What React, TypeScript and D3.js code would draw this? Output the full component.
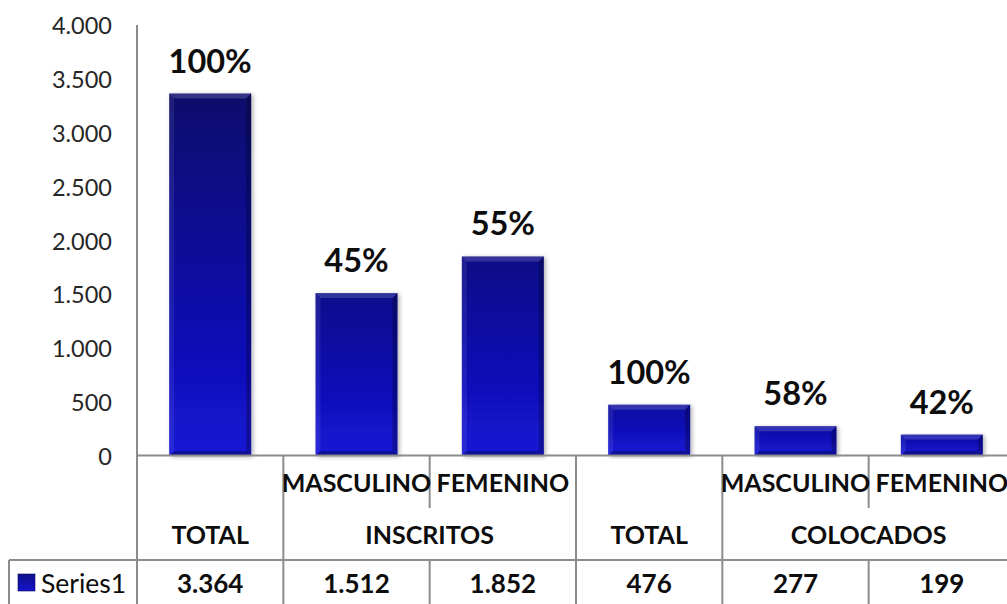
import React from "react";
import * as d3 from "d3";

const subLabels = ["", "MASCULINO", "FEMENINO", "", "MASCULINO", "FEMENINO"];
const groupLabels = ["TOTAL", "INSCRITOS", "TOTAL", "COLOCADOS"];
const groupSpans = [1, 2, 1, 2];
const values = [3364, 1512, 1852, 476, 277, 199];
const valueText = ["3.364", "1.512", "1.852", "476", "277", "199"];
const pctLabels = ["100%", "45%", "55%", "100%", "58%", "42%"];
const yTicks = [0, 500, 1000, 1500, 2000, 2500, 3000, 3500, 4000];
const seriesName = "Series1";

const W = 1007;
const H = 604;
const axisX = 137;
const rightX = 1015;
const yTop = 25;
const yBase = 456;
const row1Y = 508;
const row2Y = 560;
const legendLeft = 9;

const fmt = (v: number) => {
  const s = String(v);
  return s.length > 3 ? s.slice(0, s.length - 3) + "." + s.slice(s.length - 3) : s;
};

export default function App() {
  const idx = values.map((_, i) => i);
  const x = d3.scaleBand<number>().domain(idx).range([axisX, rightX]).paddingInner(0.44).paddingOuter(0.22);
  const cell = d3.scaleBand<number>().domain(idx).range([axisX, rightX]).padding(0);
  const y = d3.scaleLinear().domain([0, 4000]).range([yBase, yTop]);
  const step = cell.step();
  const font = "Lato, 'Open Sans', sans-serif";
  const grid = "#8c8c8c";
  const topColor = d3.scaleLinear<string>().domain([0, 3400]).range(["#1010a8", "#0a0a6a"]).clamp(true);

  const groupStarts: number[] = [];
  let acc = 0;
  groupSpans.forEach((s) => {
    groupStarts.push(acc);
    acc += s;
  });

  const bevel = (bx: number, by: number, bw: number, bh: number, i: number) => {
    const e = Math.min(5, bh / 3);
    return (
      <g key={"b" + i}>
        <rect x={bx} y={by} width={bw} height={bh} fill={`url(#barGrad${i})`} filter="url(#shadow)" />
        <polygon points={`${bx},${by} ${bx + bw},${by} ${bx + bw - e},${by + e} ${bx + e},${by + e}`} fill="#ffffff" opacity={0.16} />
        <polygon points={`${bx},${by} ${bx + e},${by + e} ${bx + e},${by + bh - e} ${bx},${by + bh}`} fill="#ffffff" opacity={0.08} />
        <polygon points={`${bx + bw},${by} ${bx + bw},${by + bh} ${bx + bw - e},${by + bh - e} ${bx + bw - e},${by + e}`} fill="#000000" opacity={0.25} />
        <polygon points={`${bx},${by + bh} ${bx + bw},${by + bh} ${bx + bw - e},${by + bh - e} ${bx + e},${by + bh - e}`} fill="#000000" opacity={0.28} />
      </g>
    );
  };

  const tableText = { fontFamily: font, fontWeight: 700, fontSize: 25, fill: "#0d0d0d" } as const;

  return (
    <svg width={W} height={H} style={{ position: "absolute", left: 0, top: 0, background: "#fff" }}>
      <defs>
        {values.map((v, i) => (
          <linearGradient key={"g" + i} id={`barGrad${i}`} x1="0" y1="0" x2="0" y2="1">
            <stop offset="0%" stopColor={topColor(v)} />
            <stop offset="100%" stopColor="#1313d6" />
          </linearGradient>
        ))}
        <linearGradient id="legGrad" x1="0" y1="0" x2="0" y2="1">
          <stop offset="0%" stopColor="#10108a" />
          <stop offset="100%" stopColor="#1414cc" />
        </linearGradient>
        <filter id="shadow" x="-20%" y="-5%" width="140%" height="110%">
          <feDropShadow dx="2" dy="1" stdDeviation="2" floodColor="#000" floodOpacity="0.3" />
        </filter>
      </defs>

      {yTicks.map((t) => (
        <text key={t} x={112} y={y(t)} textAnchor="end" dominantBaseline="central" fontFamily={font} fontSize={23.5} fill="#262626">
          {fmt(t)}
        </text>
      ))}

      {values.map((v, i) => bevel(x(i)!, y(v), x.bandwidth(), yBase - y(v), i))}

      {values.map((v, i) => (
        <text key={"p" + i} x={x(i)! + x.bandwidth() / 2} y={y(v) - 21} textAnchor="middle" fontFamily={font} fontWeight={700} fontSize={32.5} fill="#0d0d0d">
          {pctLabels[i]}
        </text>
      ))}

      <line x1={axisX} x2={axisX} y1={yTop} y2={H} stroke={grid} strokeWidth={2} />
      <line x1={axisX} x2={W} y1={yBase - 0.5} y2={yBase - 0.5} stroke={grid} strokeWidth={2} />
      <line x1={legendLeft} x2={W} y1={row2Y} y2={row2Y} stroke={grid} strokeWidth={2} />
      <line x1={legendLeft} x2={legendLeft} y1={row2Y} y2={H} stroke={grid} strokeWidth={2} />
      {idx.slice(1).map((i) => {
        const bx = cell(i)!;
        const isGroupStart = groupStarts.includes(i);
        return (
          <g key={"v" + i}>
            <line x1={bx} x2={bx} y1={yBase} y2={isGroupStart ? H : row1Y} stroke={grid} strokeWidth={2} />
            {!isGroupStart && <line x1={bx} x2={bx} y1={row2Y} y2={H} stroke={grid} strokeWidth={2} />}
          </g>
        );
      })}

      {subLabels.map((s, i) => (
        <text key={"s" + i} x={cell(i)! + step / 2} y={482} textAnchor="middle" dominantBaseline="central" {...tableText}>
          {s}
        </text>
      ))}

      {groupLabels.map((g, gi) => {
        const start = cell(groupStarts[gi])!;
        const w = groupSpans[gi] * step;
        return (
          <text key={"g" + gi} x={start + w / 2} y={534} textAnchor="middle" dominantBaseline="central" {...tableText}>
            {g}
          </text>
        );
      })}

      {valueText.map((t, i) => (
        <text key={"t" + i} x={cell(i)! + step / 2} y={583} textAnchor="middle" dominantBaseline="central" {...tableText} fontSize={26}>
          {t}
        </text>
      ))}

      <rect x={18} y={574} width={17} height={17} fill="url(#legGrad)" />
      <rect x={18} y={574} width={17} height={17} fill="none" stroke="#0a0a60" strokeWidth={1} opacity={0.6} />
      <text x={41} y={583} dominantBaseline="central" fontFamily={font} fontSize={26.5} fill="#0d0d0d">
        {seriesName}
      </text>
    </svg>
  );
}
